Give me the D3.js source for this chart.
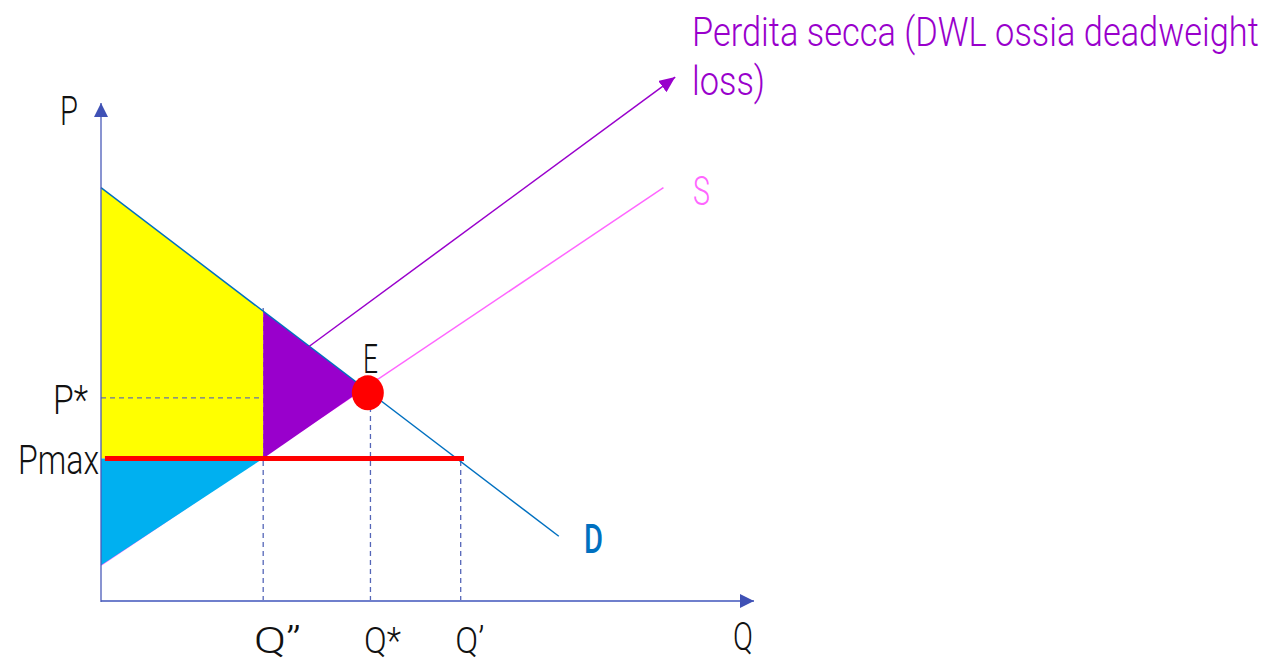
<!DOCTYPE html>
<html>
<head>
<meta charset="utf-8">
<script src="https://cdn.jsdelivr.net/npm/d3@7"></script>
<style>
  html, body { margin: 0; padding: 0; background: #fff; }
  svg { display: block; }
  text { font-family: Roboto, "Liberation Sans Narrow", sans-serif; font-weight: 300; }
</style>
</head>
<body>
<svg id="chart" width="1280" height="662"></svg>
<script>
// Price ceiling on a competitive market: demand, supply, ceiling Pmax, surplus areas.
const demandLine = [{ q: 0, p: 83 }, { q: 70, p: 13 }];      // D
const supplyLine = [{ q: 0, p: 7.2 }, { q: 86, p: 83 }];     // S
const pMax = 28.6;        // ceiling price
const pStar = 40.8;       // equilibrium price
const qStar = 41.2;       // equilibrium quantity
const qShort = 24.8;      // Q'' quantity supplied at Pmax
const qDemanded = 55;     // Q' quantity demanded at Pmax
const eqPoint = { q: 40.8, p: 41.8 };
const dwlArrow = [{ q: 31.7, p: 51 }, { q: 87.8, p: 105.2 }];

const qTicks = [qShort, qStar, qDemanded];
const qTickLabels = ["Q’’", "Q*", "Q’"];
const pTicks = [pStar, pMax];
const pTickLabels = ["P*", "Pmax"];

const svg = d3.select("#chart");
const x = d3.scaleLinear().domain([0, 100]).range([101, 755]);
const y = d3.scaleLinear().domain([0, 100]).range([601, 103]);

// line helpers
const lineOf = (a, b) => (q) => a.p + (b.p - a.p) * (q - a.q) / (b.q - a.q);
const D = lineOf(demandLine[0], demandLine[1]);
const S = lineOf(supplyLine[0], supplyLine[1]);
const qEq = (() => { // intersection of D and S
  const sd = (D(1) - D(0)), ss = (S(1) - S(0));
  return (S(0) - D(0)) / (sd - ss);
})();
const pEq = D(qEq);

const defs = svg.append("defs");
function marker(id, color, w, h) {
  defs.append("marker").attr("id", id)
    .attr("viewBox", `0 0 ${w} ${h}`).attr("refX", w).attr("refY", h / 2)
    .attr("markerWidth", w).attr("markerHeight", h)
    .attr("markerUnits", "userSpaceOnUse").attr("orient", "auto")
    .append("path").attr("d", `M0,0L${w},${h / 2}L0,${h}Z`).attr("fill", color);
}
marker("axisArrow", "#3f51b5", 14, 14);
marker("dwlArrow", "#9900cc", 16, 14);

const pt = d => [x(d.q), y(d.p)];
const line = d3.line().x(d => x(d.q)).y(d => y(d.p));

// supply curve (lies under the shaded areas)
svg.append("path").datum(supplyLine).attr("d", line)
  .attr("fill", "none").attr("stroke", "#ff66ff").attr("stroke-width", 1.5);

// dashed guides
const dashed = svg.append("g").attr("stroke", "#5566b8").attr("stroke-width", 1.3)
  .attr("stroke-dasharray", "5,4").attr("fill", "none");
dashed.append("path").attr("d", line([{ q: qShort, p: 0 }, { q: qShort, p: D(qShort) + 1 }]));
dashed.append("path").attr("d", line([{ q: qStar, p: 0 }, { q: qStar, p: eqPoint.p }]));
dashed.append("path").attr("d", line([{ q: qDemanded, p: 0 }, { q: qDemanded, p: pMax }]));

// consumer surplus under the ceiling (yellow)
svg.append("path").attr("fill", "#ffff00")
  .attr("d", d3.line()([
    pt({ q: 0, p: D(0) }), pt({ q: qShort, p: D(qShort) }),
    pt({ q: qShort, p: pMax }), pt({ q: 0, p: pMax })
  ]) + "Z");

// producer surplus (light blue)
svg.append("path").attr("fill", "#00b0f0")
  .attr("d", d3.line()([
    pt({ q: 0, p: pMax }), pt({ q: qShort, p: pMax }), pt({ q: 0, p: S(0) })
  ]) + "Z");

// deadweight loss (purple)
svg.append("path").attr("fill", "#9900cc")
  .attr("d", d3.line()([
    pt({ q: qShort, p: D(qShort) }), pt({ q: qEq, p: pEq }), pt({ q: qShort, p: pMax })
  ]) + "Z");

// P* dashed guide over the yellow area
svg.append("path").attr("d", line([{ q: 0, p: pStar }, { q: qShort, p: pStar }]))
  .attr("stroke", "#6a72a8").attr("stroke-width", 1.3).attr("stroke-dasharray", "5,4");

// demand curve
svg.append("path").datum(demandLine).attr("d", line)
  .attr("fill", "none").attr("stroke", "#0070c0").attr("stroke-width", 1.5);

// arrow pointing to the DWL caption
svg.append("path").datum(dwlArrow).attr("d", line)
  .attr("fill", "none").attr("stroke", "#9900cc").attr("stroke-width", 1.5)
  .attr("marker-end", "url(#dwlArrow)");

// price ceiling
svg.append("path").attr("d", line([{ q: 0.6, p: pMax }, { q: qDemanded + 0.5, p: pMax }]))
  .attr("stroke", "#ff0000").attr("stroke-width", 5);

// equilibrium point
svg.append("ellipse").attr("cx", x(eqPoint.q)).attr("cy", y(eqPoint.p))
  .attr("rx", 16).attr("ry", 17.5).attr("fill", "#ff0000");

// axes
const qLen = [47, 37, 29];
const xAxis = d3.axisBottom(x).tickValues(qTicks)
  .tickFormat((d, i) => qTickLabels[i]).tickSize(0);
const gx = svg.append("g").attr("transform", `translate(0,${y(0)})`).call(xAxis);
gx.select(".domain").remove();
gx.selectAll("text").attr("dy", null).attr("y", 52).attr("dx", 0)
  .attr("text-anchor", "start")
  .attr("x", (d, i) => [-10, -7, -6][i])
  .attr("textLength", (d, i) => qLen[i]).attr("lengthAdjust", "spacingAndGlyphs")
  .attr("font-size", 37).attr("fill", "#111").attr("font-family", null);

const yAxis = d3.axisLeft(y).tickValues(pTicks)
  .tickFormat((d, i) => pTickLabels[i]).tickSize(0);
const gy = svg.append("g").attr("transform", `translate(${x(0)},0)`).call(yAxis);
gy.select(".domain").remove();
gy.selectAll("text").attr("x", d => d === pStar ? -13 : -2).attr("dy", "0.38em")
  .attr("textLength", d => d === pStar ? 35 : 81).attr("lengthAdjust", "spacingAndGlyphs")
  .attr("font-size", 40).attr("fill", "#111").attr("font-family", null);

svg.append("line").attr("x1", x(0)).attr("y1", y(0)).attr("x2", x(100) - 1).attr("y2", y(0))
  .attr("stroke", "#6f7fcc").attr("stroke-width", 2).attr("marker-end", "url(#axisArrow)");
svg.append("line").attr("x1", x(0)).attr("y1", y(0) + 1).attr("x2", x(0)).attr("y2", y(100))
  .attr("stroke", "#4a5ab8").attr("stroke-width", 1.3).attr("marker-end", "url(#axisArrow)");

// text labels
const label = (t, px, py, color, opts = {}) => {
  const el = svg.append("text").attr("x", px).attr("y", py).attr("fill", color)
    .attr("font-size", opts.size || 40).text(t);
  if (opts.anchor) el.attr("text-anchor", opts.anchor);
  if (opts.len) el.attr("textLength", opts.len).attr("lengthAdjust", "spacingAndGlyphs");
  if (opts.weight) el.style("font-weight", opts.weight);
  return el;
};
label("P", 60, 125, "#111", { len: 18 });
label("Q", 733, 650, "#111", { size: 38, len: 20 });
label("E", 363, 373, "#111", { len: 15 });
label("D", 584, 553, "#0070c0", { weight: 500, len: 19 });
label("S", 693, 205, "#ff66ff", { len: 17 });

// DWL caption, horizontally condensed to fit its two lines
const caption = svg.append("g").attr("transform", "translate(692,0) scale(0.86,1)");
caption.append("text").attr("x", 0).attr("y", 46).attr("fill", "#9900cc")
  .attr("font-size", 40).text("Perdita secca (DWL ossia deadweight");
caption.append("text").attr("x", 0).attr("y", 95).attr("fill", "#9900cc")
  .attr("font-size", 40).text("loss)");
</script>
</body>
</html>
